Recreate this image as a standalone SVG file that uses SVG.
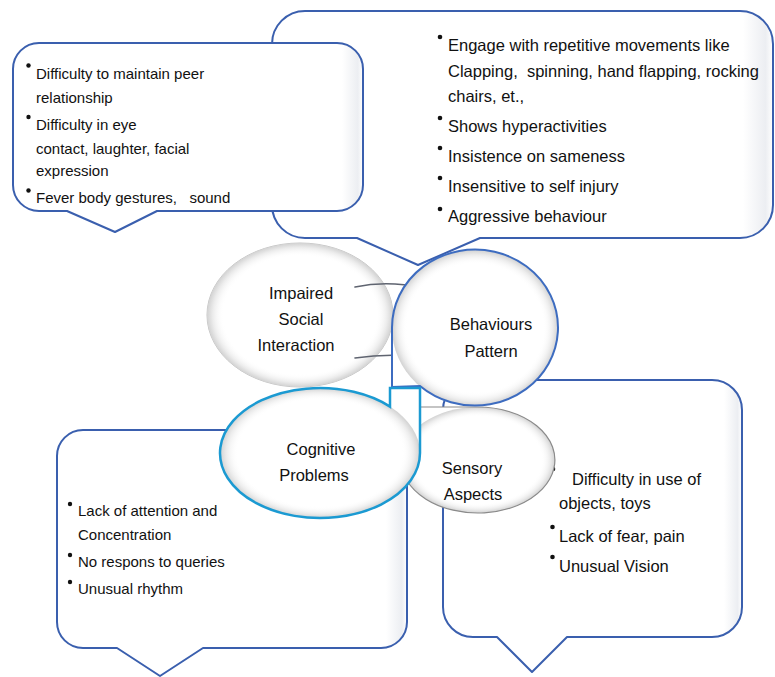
<svg xmlns="http://www.w3.org/2000/svg" width="775" height="677" viewBox="0 0 775 677">
<style>
.box{fill:url(#boxg);stroke:#3a5fae;stroke-width:2;stroke-linejoin:round}
.t{font-family:"Liberation Sans",Arial,sans-serif;fill:#111;white-space:pre}
.s15{font-size:15px}
.s16{font-size:16.5px}
.lbl{font-family:"Liberation Sans",Arial,sans-serif;font-size:16.5px;fill:#111;text-anchor:middle}
.dot{fill:#111}
.arc{fill:none;stroke:#5f6470;stroke-width:1.6;stroke-linecap:round}
.shade{fill:url(#bub);stroke:none}
</style>
<defs>
<linearGradient id="boxg" x1="0" y1="0" x2="1" y2="0">
<stop offset="0" stop-color="#ffffff"/>
<stop offset="0.94" stop-color="#ffffff"/>
<stop offset="0.985" stop-color="#eceef2"/>
<stop offset="1" stop-color="#ffffff"/>
</linearGradient>
<radialGradient id="bub" cx="0.5" cy="0.5" r="0.5">
<stop offset="0" stop-color="#ffffff" stop-opacity="0"/>
<stop offset="0.82" stop-color="#ffffff" stop-opacity="0"/>
<stop offset="0.94" stop-color="#ebebeb"/>
<stop offset="1" stop-color="#d2d2d2"/>
</radialGradient>
</defs>

<g id="box-behaviour">
<path class="box" d="M305,11 H740 A33,33 0 0 1 773,44 V205 A33,33 0 0 1 740,238 H480 L418,265 L357,238 H305 A33,33 0 0 1 272,205 V44 A33,33 0 0 1 305,11 Z"/>
<circle class="dot" cx="440" cy="37" r="2.3"/>
<circle class="dot" cx="440" cy="118" r="2.3"/>
<circle class="dot" cx="440" cy="148" r="2.3"/>
<circle class="dot" cx="440" cy="178" r="2.3"/>
<circle class="dot" cx="440" cy="209" r="2.3"/>
<text class="t s16" x="448" y="51">Engage with repetitive movements like</text>
<text class="t s16" x="448" y="77" xml:space="preserve">Clapping,  spinning, hand flapping, rocking</text>
<text class="t s16" x="448" y="102">chairs, et.,</text>
<text class="t s16" x="448" y="132">Shows hyperactivities</text>
<text class="t s16" x="448" y="162">Insistence on sameness</text>
<text class="t s16" x="448" y="192">Insensitive to self injury</text>
<text class="t s16" x="448" y="222">Aggressive behaviour</text>
</g>

<g id="box-social">
<path class="box" d="M39,43 H337 A26,26 0 0 1 363,69 V185 A26,26 0 0 1 337,211 H157 L115,232 L67,211 H39 A26,26 0 0 1 13,185 V69 A26,26 0 0 1 39,43 Z"/>
<circle class="dot" cx="28.5" cy="65.5" r="2.2"/>
<circle class="dot" cx="28.5" cy="117" r="2.2"/>
<circle class="dot" cx="28.5" cy="190.5" r="2.2"/>
<text class="t s15" x="36" y="79">Difficulty to maintain peer</text>
<text class="t s15" x="36" y="103">relationship</text>
<text class="t s15" x="36" y="130">Difficulty in eye</text>
<text class="t s15" x="36" y="154">contact, laughter, facial</text>
<text class="t s15" x="36" y="176">expression</text>
<text class="t s15" x="36" y="203" xml:space="preserve">Fever body gestures,   sound</text>
</g>

<g id="box-sensory">
<path class="box" d="M473,380 H712 A30,30 0 0 1 742,410 V607 A30,30 0 0 1 712,637 H567 L532,672 L497,637 H473 A30,30 0 0 1 443,607 V410 A30,30 0 0 1 473,380 Z"/>
<circle class="dot" cx="553" cy="469" r="2.3"/>
<circle class="dot" cx="552.5" cy="527" r="2.3"/>
<circle class="dot" cx="552.5" cy="557" r="2.3"/>
<text class="t s16" x="572" y="485">Difficulty in use of</text>
<text class="t s16" x="559" y="509">objects, toys</text>
<text class="t s16" x="559" y="542">Lack of fear, pain</text>
<text class="t s16" x="559" y="572">Unusual Vision</text>
</g>

<g id="box-cognitive">
<path class="box" d="M83,430 H381 A26,26 0 0 1 407,456 V622 A26,26 0 0 1 381,648 H203 L160,676 L117,648 H83 A26,26 0 0 1 57,622 V456 A26,26 0 0 1 83,430 Z"/>
<circle class="dot" cx="70" cy="504" r="2.2"/>
<circle class="dot" cx="70" cy="555" r="2.2"/>
<circle class="dot" cx="70" cy="582" r="2.2"/>
<text class="t s15" x="78" y="516">Lack of attention and</text>
<text class="t s15" x="78" y="540">Concentration</text>
<text class="t s15" x="78" y="567">No respons to queries</text>
<text class="t s15" x="78" y="594">Unusual rhythm</text>
</g>

<g id="node-social">
<ellipse cx="300" cy="315" rx="93" ry="72" fill="#ffffff" stroke="#c4c4c4" stroke-width="1"/>
<ellipse class="shade" cx="300" cy="315" rx="93" ry="72"/>
<text class="lbl" x="301" y="299">Impaired</text>
<text class="lbl" x="301" y="325">Social</text>
<text class="lbl" x="296" y="351">Interaction</text>
</g>

<g id="connectors">
<path class="arc" d="M355,287 Q388,280 422,288"/>
<path class="arc" d="M355,358 Q388,353 422,357"/>
</g>

<g id="node-sensory">
<path d="M420,407 L478,407 A77,53 0 1 1 410,435 Z" fill="#ffffff"/>
<ellipse class="shade" cx="478" cy="460" rx="77" ry="53"/>
<path d="M420,407 L478,407 A77,53 0 1 1 410,435 Z" fill="none" stroke="#8a8a8a" stroke-width="1.2"/>
<text class="lbl" x="472" y="474">Sensory</text>
<text class="lbl" x="473" y="500">Aspects</text>
</g>

<g id="node-behaviours">
<path d="M392,328 A83,78 0 1 1 420,386 L392,387 Z" fill="#ffffff"/>
<ellipse class="shade" cx="475" cy="328" rx="83" ry="78"/>
<path d="M392,328 A83,78 0 1 1 420,386 L392,387 Z" fill="none" stroke="#3d6cc0" stroke-width="2"/>
<text class="lbl" x="491" y="330">Behaviours</text>
<text class="lbl" x="491" y="357">Pattern</text>
</g>

<g id="node-cognitive">
<path d="M420,453 A100,65 0 1 1 390,406.6 L390,388 L420,388 Z" fill="#ffffff"/>
<ellipse class="shade" cx="320" cy="453" rx="100" ry="65"/>
<path d="M420,453 A100,65 0 1 1 390,406.6 L390,388 L420,388 Z" fill="none" stroke="#1b9ad2" stroke-width="2.5"/>
<text class="lbl" x="321" y="455">Cognitive</text>
<text class="lbl" x="314" y="481">Problems</text>
</g>
</svg>
